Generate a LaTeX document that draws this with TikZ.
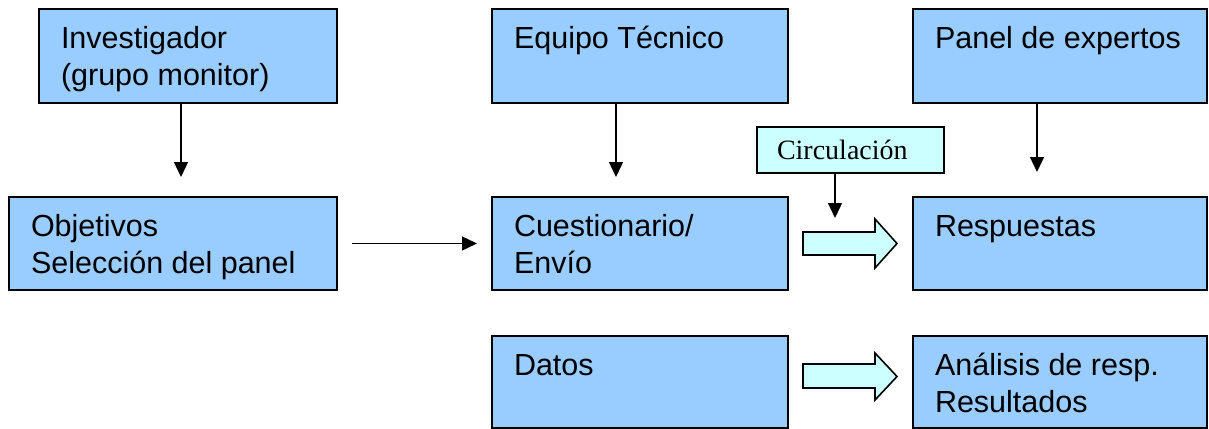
\documentclass[tikz,border=0pt]{standalone}
\usepackage{fontspec}
\setmainfont{Liberation Sans}
\newfontfamily\serifc{Liberation Serif}
\usetikzlibrary{arrows.meta}
\definecolor{boxblue}{HTML}{99CCFF}
\definecolor{circfill}{HTML}{CCFFFF}
\tikzset{
  box/.style={draw=black, fill=boxblue, line width=1.8pt, inner xsep=22pt, inner ysep=14pt, outer sep=0pt, anchor=north west, font=\fontsize{30.5pt}{36.5pt}\selectfont},
  arr/.style={line width=1.4pt, -{Triangle[width=14pt,length=15pt]}},
  blk/.style={draw=black, fill=circfill, line width=1.6pt, line join=miter},
  circbox/.style={draw=black, fill=circfill, line width=1.6pt, outer sep=0pt, anchor=north west, minimum width=187pt, minimum height=46pt, inner xsep=20pt, text width=147pt, align=left, font=\serifc\fontsize{28pt}{33pt}\selectfont}
}
\newcommand{\bxt}[3]{\parbox[t][#1][t]{#2}{\strut #3}}
\begin{document}
\begin{tikzpicture}[x=1pt,y=-1pt]
\useasboundingbox (0,0) rectangle (1209,428);
% top row
\node[box] (inv) at (39,9) {\bxt{66pt}{254pt}{Investigador\\(grupo monitor)}};
\node[box] (eq) at (492,9) {\bxt{66pt}{252pt}{Equipo Técnico}};
\node[box] (pan) at (913,9) {\bxt{66pt}{250pt}{Panel de expertos}};
% middle row
\node[box] (obj) at (9,197) {\bxt{65pt}{284pt}{Objetivos\\Selección del panel}};
\node[box] (cue) at (492,197) {\bxt{65pt}{252pt}{Cuestionario/\\Envío}};
\node[box] (res) at (913,197) {\bxt{65pt}{250pt}{Respuestas}};
% bottom row
\node[box] (dat) at (492,336) {\bxt{64pt}{252pt}{Datos}};
\node[box] (ana) at (913,336) {\bxt{64pt}{250pt}{Análisis de resp.\\Resultados}};
% circulacion
\node[circbox] (circ) at (757,127) {Circulación};
\coordinate (circtip) at (835,218);
% arrows
\draw[arr, shorten >=20pt] ([xshift=-7pt]inv.south) -- ([xshift=-7pt]inv.south |- obj.north);
\draw[arr, shorten >=20pt] ([xshift=-24pt]eq.south) -- ([xshift=-24pt]eq.south |- cue.north);
\draw[arr, shorten >=25pt] ([xshift=-23pt]pan.south) -- ([xshift=-23pt]pan.south |- res.north);
\draw[arr] (circ.south -| circtip) -- (circtip);
\draw[arr, shorten <=15pt, shorten >=15pt] (obj.east) -- (cue.west);
% block arrows
\draw[blk] (803,232) -- (875,232) -- (875,219) -- (897,243.5) -- (875,268) -- (875,255) -- (803,255) -- cycle;
\draw[blk] (803,364) -- (875,364) -- (875,353) -- (897,376.5) -- (875,400) -- (875,388) -- (803,388) -- cycle;
\end{tikzpicture}
\end{document}
